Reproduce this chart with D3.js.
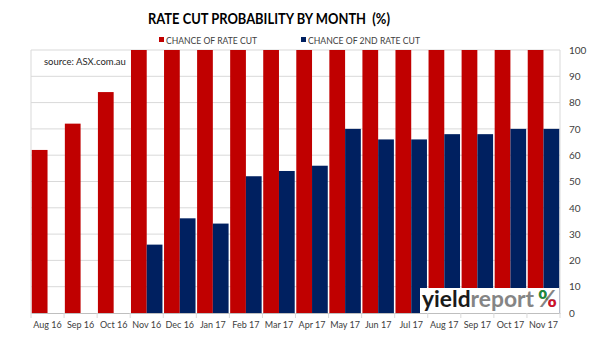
<!DOCTYPE html>
<html><head><meta charset="utf-8">
<script src="https://cdn.jsdelivr.net/npm/d3@7"></script>
<style>body{margin:0;background:#fff}svg{display:block}text{font-family:Lato,"Open Sans",sans-serif}</style>
</head><body><svg id="c" width="602" height="347"></svg>
<script>
const months = ["Aug 16","Sep 16","Oct 16","Nov 16","Dec 16","Jan 17","Feb 17","Mar 17","Apr 17","May 17","Jun 17","Jul 17","Aug 17","Sep 17","Oct 17","Nov 17"];
const rateCut = [62,72,84,100,100,100,100,100,100,100,100,100,100,100,100,100];
const secondCut = [0,0,0,26,36,34,52,54,56,70,66,66,68,68,70,70];
const yTicks = [0,10,20,30,40,50,60,70,80,90,100];
const seriesNames = ["CHANCE OF RATE CUT","CHANCE OF 2ND RATE CUT"];
const colors = ["#c00000","#002060"];

const svg = d3.select("#c");
const L = 31, R = 560, T = 50, B = 313;
const x = d3.scaleBand().domain(months).range([L, R]).padding(0);
const xs = d3.scaleBand().domain([0,1]).range([0, x.bandwidth()]).paddingOuter(0.05).paddingInner(0);
const y = d3.scaleLinear().domain([0,100]).range([B, T]);

// gridlines
svg.append("g").selectAll("line").data(yTicks.filter(d=>d>0)).join("line")
  .attr("x1", L).attr("x2", R).attr("y1", d=>y(d)).attr("y2", d=>y(d))
  .attr("stroke", "#d9d9d9").attr("stroke-width", 1);
svg.append("line").attr("x1",L).attr("x2",L).attr("y1",T).attr("y2",B).attr("stroke","#d9d9d9");
svg.append("line").attr("x1",R).attr("x2",R).attr("y1",T).attr("y2",B).attr("stroke","#d9d9d9");

// bars
const data = months.map((m,i)=>({m, v:[rateCut[i], secondCut[i]]}));
const gb = svg.append("g");
[0,1].forEach(s=>{
  gb.selectAll(".b"+s).data(data.filter(d=>d.v[s]>0)).join("rect")
    .attr("x", d=>x(d.m)+xs(s)).attr("width", xs.bandwidth())
    .attr("y", d=>y(d.v[s])).attr("height", d=>B - y(d.v[s]))
    .attr("fill", colors[s]);
});

// x axis
const xa = svg.append("g").attr("transform",`translate(0,${B})`)
  .call(d3.axisBottom(x).tickSize(0).tickPadding(9));
xa.select(".domain").attr("stroke","#bfbfbf");
xa.selectAll("text").attr("font-size","9px").attr("fill","#404040").attr("font-family","Lato, sans-serif");
svg.append("g").selectAll("line").data(d3.range(months.length+1)).join("line")
  .attr("x1", i=>L + i*x.step()).attr("x2", i=>L + i*x.step())
  .attr("y1", B).attr("y2", B+5).attr("stroke","#d9d9d9");

// y axis right
const ya = svg.append("g").attr("transform",`translate(${R},0)`)
  .call(d3.axisRight(y).tickValues(yTicks).tickSize(0).tickPadding(9));
ya.select(".domain").remove();
ya.selectAll("text").attr("font-size","10px").attr("fill","#404040").attr("font-family","Lato, sans-serif");

// title
svg.append("text").attr("x", 148).attr("y", 24)
  .attr("font-size","15.5px").attr("font-weight","bold").attr("fill","#000")
  .attr("textLength", 242).attr("lengthAdjust","spacingAndGlyphs")
  .style("white-space","pre")
  .text("RATE CUT PROBABILITY BY MONTH  (%)");

// legend
const legX = [159, 301];
const legW = [91, 112];
seriesNames.forEach((n,i)=>{
  svg.append("rect").attr("x",legX[i]).attr("y",37).attr("width",5).attr("height",5).attr("fill",colors[i]);
  svg.append("text").attr("x",legX[i]+7).attr("y",43.5).attr("font-size","9.5px").attr("fill","#404040")
    .attr("textLength", legW[i]).attr("lengthAdjust","spacingAndGlyphs").text(n);
});

// source
svg.append("text").attr("x",44).attr("y",65).attr("font-size","9.5px").attr("fill","#262626").text("source: ASX.com.au");

// logo
svg.append("rect").attr("x",420).attr("y",288).attr("width",R-420-1).attr("height",B-288).attr("fill","#fff");
const logo = svg.append("text").attr("x",422).attr("y",307).attr("font-size","22px").attr("font-weight","bold")
  .attr("font-family","'Open Sans', Lato, sans-serif").attr("textLength",112).attr("lengthAdjust","spacingAndGlyphs");
logo.append("tspan").attr("fill","#1a1a1a").text("yield");
logo.append("tspan").attr("fill","#858585").text("report");
const pctX = 538, pctY = 307;
const pct = svg.append("text").attr("x",pctX).attr("y",pctY).attr("font-size","23px").attr("font-weight","bold")
  .attr("font-family","'Open Sans', Lato, sans-serif").attr("fill","#858585").text("%");
const bb = pct.node().getBBox();
const defs = svg.append("defs");
defs.append("clipPath").attr("id","cg").append("rect")
  .attr("x",bb.x).attr("y",bb.y).attr("width",bb.width*0.5).attr("height",bb.height*0.55);
defs.append("clipPath").attr("id","cr").append("rect")
  .attr("x",bb.x+bb.width*0.5).attr("y",bb.y+bb.height*0.55).attr("width",bb.width*0.5).attr("height",bb.height*0.45);
svg.append("text").attr("x",pctX).attr("y",pctY).attr("font-size","23px").attr("font-weight","bold")
  .attr("font-family","'Open Sans', Lato, sans-serif").attr("fill","#1e8a3a").attr("clip-path","url(#cg)").text("%");
svg.append("text").attr("x",pctX).attr("y",pctY).attr("font-size","23px").attr("font-weight","bold")
  .attr("font-family","'Open Sans', Lato, sans-serif").attr("fill","#d0102a").attr("clip-path","url(#cr)").text("%");
</script></body></html>
